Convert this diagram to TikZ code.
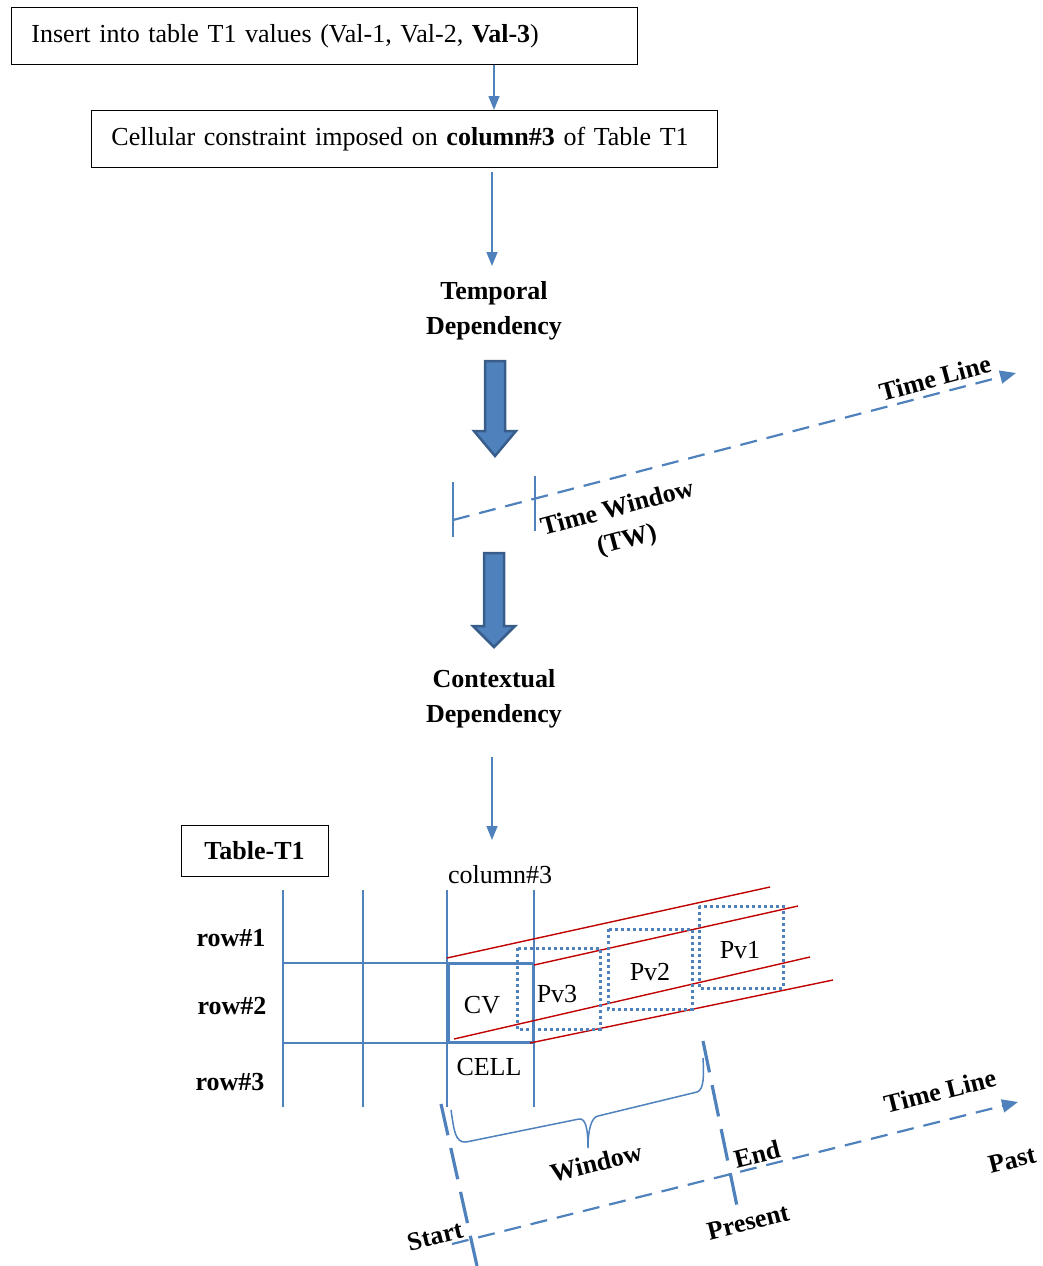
\documentclass[tikz,border=0pt]{standalone}
\usepackage{fontspec}
\setmainfont{Liberation Serif}
\usetikzlibrary{arrows.meta}
\definecolor{ob}{HTML}{4F81BD}
\definecolor{obd}{HTML}{385D8A}
\definecolor{rd}{HTML}{C00000}
\begin{document}
\begin{tikzpicture}[x=1pt,y=-1pt,
  every node/.style={font=\fontsize{26}{35}\selectfont, inner sep=0pt},
  txtbox/.style={draw=black, line width=0.9pt, anchor=north west, inner xsep=20pt, text width=586pt, minimum height=57pt, align=left},
  bld/.style={font=\fontsize{26}{35}\selectfont\bfseries, align=center},
  arr/.style={draw=ob, line width=1.5pt, -{Triangle[length=14pt,width=11pt]}},
  grid/.style={draw=ob, line width=1.5pt},
  tline/.style={draw=ob, line width=2.2pt, dash pattern=on 17pt off 10pt, -{Triangle[length=16pt,width=13pt]}},
  bigdash/.style={draw=ob, line width=3.2pt, dash pattern=on 32pt off 13pt},
  redl/.style={draw=rd, line width=1.4pt},
  dotbox/.style={draw=ob, line width=3pt, dash pattern=on 3pt off 3pt},
  blockarrow/.style={fill=ob, draw=obd, line width=2.5pt, line join=miter}
]
\useasboundingbox (0,0) rectangle (1042,1266);

% top boxes
\node[txtbox] (box1) at (11,7) {Insert into table T1 values (Val-1, Val-2, \textbf{Val-3})};
\node[txtbox] (box2) at (91,110) {Cellular constraint imposed on \textbf{column\#3} of Table T1};

\node[bld] (temp) at (494,311) {Temporal\\Dependency};
\node[bld] (ctx) at (494,699) {Contextual\\Dependency};

\coordinate (a1) at (494,110);
\coordinate (a2) at (492,266);
\coordinate (a3) at (492,840);
\draw[arr] (box1.south -| a1) -- (a1);
\draw[arr] (box2.south -| a2) ++(0,4) -- (a2);
\draw[arr] (ctx.south -| a3) ++(0,28) -- (a3);

% block arrows
\draw[blockarrow] (485,361) -- (505,361) -- (505,431) -- (516,431) -- (495,456) -- (474,431) -- (485,431) -- cycle;
\draw[blockarrow] (484,553) -- (504,553) -- (504,626) -- (515,626) -- (494,647) -- (473,626) -- (484,626) -- cycle;

% top time window
\coordinate (tw0) at (453,520);
\coordinate (tlend) at (1016,373);
\draw[ob, line width=1.5pt] (453,482) -- (453,537);
\draw[ob, line width=1.5pt] (535,476) -- (535,531);
\draw[tline] (tw0) -- (tlend);
\node[bld, rotate=15] (tl1) at (935,378) {Time Line};
\node[bld, rotate=15] (tw) at (617,507) {Time Window};
\node[bld, rotate=15] (twb) at (627,541) {(TW)};

% table
\node[draw=black, line width=1pt, minimum width=147pt, minimum height=51pt, font=\fontsize{26}{35}\selectfont\bfseries] (tab) at (254.5,850.5) {Table-T1};
\node (col3) at (500,875) {column\#3};
\draw[grid] (283,890) -- (283,1107);
\draw[grid] (363,890) -- (363,1107);
\draw[grid] (447,890) -- (447,1107);
\draw[grid] (534,890) -- (534,1107);
\draw[grid] (283,963) -- (447,963);
\draw[grid] (283,1043) -- (447,1043);
\draw[draw=ob, line width=3.5pt] (448.5,963.5) rectangle (533.5,1042.5);
\node[bld] (r1) at (231,938) {row\#1};
\node[bld] (r2) at (232,1006) {row\#2};
\node[bld] (r3) at (230,1082) {row\#3};
\node (cv) at (482,1005) {CV};
\node (cell) at (489,1067) {CELL};

% red lines
\draw[redl] (447,958) -- (770,887);
\draw[redl] (534,965) -- (798,906);
\draw[redl] (454,1039) -- (810,957);
\draw[redl] (530,1043) -- (833,980);

% dotted boxes
\draw[dotbox] (517,948) rectangle (600,1029);
\draw[dotbox] (608,929) rectangle (692,1009);
\draw[dotbox] (699,906) rectangle (783,988);
\node (pv3) at (557,994) {Pv3};
\node (pv2) at (650,972) {Pv2};
\node (pv1) at (740,950) {Pv1};

% bottom timeline
\draw[bigdash] (441,1104) -- (477,1266);
\draw[bigdash] (703,1041) -- (737,1206);
\coordinate (tl2s) at (452,1244);
\coordinate (tl2e) at (1018,1102);
\draw[tline] (tl2s) -- (tl2e);
\draw[ob, line width=1.5pt] (451,1110) .. controls (454,1130) and (455,1143) .. (466,1142) -- (579,1119) .. controls (586,1118) and (588,1130) .. (588,1148) .. controls (588,1128) and (592,1117) .. (598,1116) -- (697,1092) .. controls (704,1090) and (704,1075) .. (703,1058);

\node[bld, rotate=14] (tl3) at (940,1091) {Time Line};
\node[bld, rotate=14] (past) at (1012,1160) {Past};
\node[bld, rotate=14] (endl) at (757,1154) {End};
\node[bld, rotate=14] (pres) at (748,1222) {Present};
\node[bld, rotate=14] (start) at (435,1236) {Start};
\node[bld, rotate=14] (win) at (596,1163) {Window};
\end{tikzpicture}
\end{document}
